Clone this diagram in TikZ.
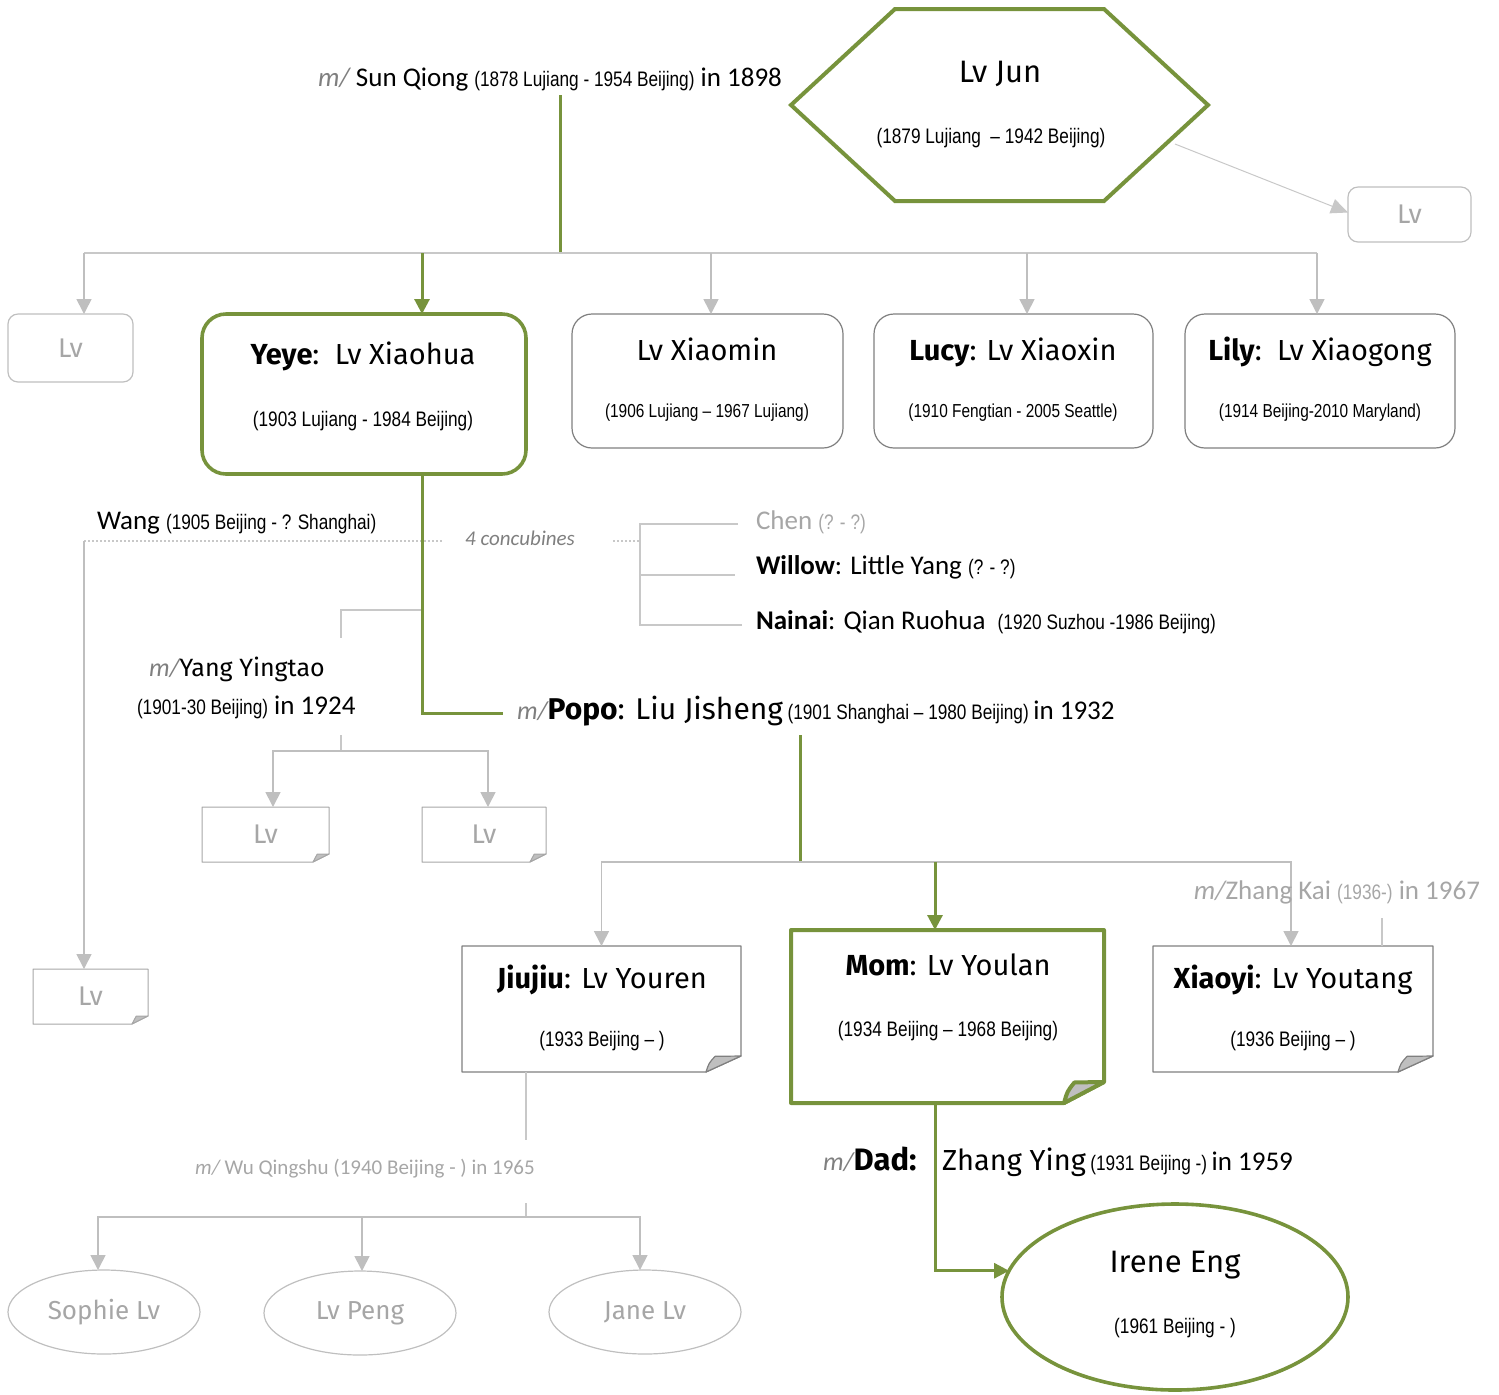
\documentclass[tikz,border=0pt]{standalone}
\usepackage{fontspec}
\setmainfont{Carlito}
\newfontfamily\comic{Fira Sans}
\newfontfamily\narrow[FakeStretch=0.82]{Liberation Sans}
\usetikzlibrary{arrows.meta,calc,shapes.geometric}
\definecolor{grn}{HTML}{77933C}
\definecolor{lgray}{HTML}{C8C8C8}
\definecolor{agray}{HTML}{BFBFBF}
\definecolor{tgray}{HTML}{A6A6A6}
\definecolor{bgray}{HTML}{7F7F7F}
\newcommand\dts[1]{{\narrow\fontsize{10.5}{12}\selectfont #1}}
\newcommand\mslash{{\itshape\color{bgray}m/}}
\newcommand\notedraw[4]{%
  \draw[#2, line join=round] (#1.north west) -- (#1.north east) -- ($(#1.south east)+(0,-#4)$) -- ($(#1.south east)+(-#3,0)$) -- (#1.south west) -- cycle;
  \filldraw[#2, line join=round, fill=agray] ($(#1.south east)+(-#3,0)$) .. controls ($(#1.south east)+(-0.92*#3,-0.55*#4)$) .. ($(#1.south east)+(-0.74*#3,-0.98*#4)$) -- ($(#1.south east)+(0,-#4)$) -- cycle;}
\begin{document}
\begin{tikzpicture}[x=0.5pt,y=-0.5pt,
  every node/.style={inner sep=0pt, outer sep=0pt},
  title/.style={font=\comic\fontsize{14.5}{17}\selectfont},
  dates/.style={font=\narrow\fontsize{10.5}{12}\selectfont},
  sdates/.style={font=\narrow\fontsize{9.4}{11}\selectfont},
  txt/.style={font=\fontsize{13.5}{15}\selectfont},
  lvtext/.style={font=\comic\fontsize{13.5}{15}\selectfont, text=tgray},
  hexst/.style={draw=grn, line width=2pt},
  greenbox/.style={draw=grn, line width=1.8pt, rounded corners=12pt},
  graybox/.style={draw=bgray, line width=0.6pt, rounded corners=10pt},
  lvbox/.style={draw=agray, line width=0.6pt, rounded corners=5pt},
  notegray/.style={draw=bgray, line width=0.6pt},
  notelight/.style={draw=tgray, line width=0.5pt},
  notegreen/.style={draw=grn, line width=2pt},
  ga/.style={draw=agray, line width=0.8pt, -{Triangle[width=7.5pt,length=7.5pt]}},
  gna/.style={draw=lgray, line width=0.8pt},
  thinga/.style={draw=lgray, line width=0.5pt, -{Triangle[width=7.5pt,length=8.5pt]}},
  dotl/.style={draw=lgray, line width=0.6pt, dash pattern=on 1pt off 1pt},
  gr/.style={draw=grn, line width=1.5pt},
  grA/.style={draw=grn, line width=1.5pt, -{Triangle[width=7.5pt,length=7.5pt]}}]
\useasboundingbox (0,0) rectangle (1499,1394);

% ---------- Lv Jun hexagon
\node[minimum width=208.5pt, minimum height=96pt] (lvjun) at (999.5,105) {};
\draw[hexst] ($(lvjun.north west)+(104,0)$) -- ($(lvjun.north east)+(-104,0)$) -- (lvjun.east) -- ($(lvjun.south east)+(-104,0)$) -- ($(lvjun.south west)+(104,0)$) -- (lvjun.west) -- cycle;
\node[anchor=base, font=\comic\fontsize{15.5}{17}\selectfont] (lvjunT) at (1000,82) {Lv Jun};
\node[dates, anchor=base] (lvjunD) at (991,143) {(1879 Lujiang \ – 1942 Beijing)};

\node[lvbox, lvtext, minimum width=61.5pt, minimum height=27.5pt] (lvR) at (1409.5,214.5) {Lv};
\draw[thinga] ($(lvjun.east)+(-33,39)$) -- ($(lvR.west)+(0,-2)$);

% ---------- Sun Qiong
\node[txt, anchor=base west] (sun) at (318,86) {\mslash\ Sun Qiong \dts{(1878 Lujiang - 1954 Beijing)} in 1898};
\coordinate (sunb) at (560,95);
\coordinate (sj) at (560,253);
\coordinate (d1) at (84,253);
\coordinate (yx) at (422,253);
\coordinate (d3) at (711,253);
\coordinate (d4) at (1027,253);
\coordinate (d5) at (1317,253);

% ---------- second row
\node[lvbox, lvtext, minimum width=62.5pt, minimum height=34pt] (lvL) at (70.5,348) {Lv};
\node[greenbox, minimum width=162pt, minimum height=80pt] (yeye) at (364,394) {};
\node[title, anchor=base] (yeyeT) at (363,364) {\textbf{Yeye}:\ \ Lv Xiaohua};
\node[dates, anchor=base] (yeyeD) at (363,426) {(1903 Lujiang - 1984 Beijing)};

\node[graybox, minimum width=135.5pt, minimum height=67pt] (xiaomin) at (707.5,381) {};
\node[title, anchor=base] (xiaominT) at (707,360) {Lv Xiaomin};
\node[sdates, anchor=base] (xiaominD) at (707,417) {(1906 Lujiang – 1967 Lujiang)};

\node[graybox, minimum width=139.5pt, minimum height=67pt] (lucy) at (1013.5,381) {};
\node[title, anchor=base] (lucyT) at (1013,360) {\textbf{Lucy}: Lv Xiaoxin};
\node[sdates, anchor=base] (lucyD) at (1013,417) {(1910 Fengtian - 2005 Seattle)};

\node[graybox, minimum width=135pt, minimum height=67pt] (lily) at (1320,381) {};
\node[title, anchor=base] (lilyT) at (1320,360) {\textbf{Lily}:\ \ Lv Xiaogong};
\node[sdates, anchor=base] (lilyD) at (1320,417) {(1914 Beijing-2010 Maryland)};

\draw[gr] (sunb) -- (sj);
\draw[gna] (d1) -- (d5);
\draw[ga] (d1) -- (d1 |- lvL.north);
\draw[ga] (d3) -- (d3 |- xiaomin.north);
\draw[ga] (d4) -- (d4 |- lucy.north);
\draw[ga] (d5) -- (d5 |- lily.north);
\draw[grA] (yx) -- (yx |- yeye.north);

% ---------- wives & concubines
\node[txt, anchor=base west] (wang) at (97,529) {Wang \dts{(1905 Beijing - ? Shanghai)}};
\node[font=\itshape\fontsize{10.5}{12}\selectfont, text=bgray, anchor=base] (conc) at (520,545) {4 concubines};
\coordinate (wj) at (84,541);
\coordinate (wd) at (443,541);
\coordinate (cd1) at (613,541);
\coordinate (cd2) at (640,541);
\draw[dotl] (wj) -- (wd);
\draw[dotl] (cd1) -- (cd2);
\node[txt, anchor=base west, text=tgray] (chen) at (756,529) {Chen \dts{(? - ?)}};
\node[txt, anchor=base west] (willow) at (756,574) {\textbf{Willow}: Little Yang \dts{(? - ?)}};
\node[txt, anchor=base west] (nainai) at (756,629) {\textbf{Nainai}: Qian Ruohua \ \dts{(1920 Suzhou -1986 Beijing)}};
\coordinate (c1) at (738,524);
\coordinate (c2) at (735,575);
\coordinate (c3) at (742,625);
\draw[gna] (c1) -| (c3 -| cd2) -- (c3);
\draw[gna] (c2 -| cd2) -- (c2);

\node[lvtext, minimum width=57.5pt, minimum height=27.5pt] (lvC) at (90.5,996.5) {Lv};
\notedraw{lvC}{notelight}{16}{8}
\draw[ga] (wj) -- (wj |- lvC.north);

% ---------- Yang Yingtao branch
\node[anchor=base west] (yang1) at (149,676) {{\itshape\color{bgray}\fontsize{13}{15}\selectfont m/}{\comic\fontsize{12.5}{15}\selectfont Yang Yingtao}};
\node[txt, anchor=base west] (yang2) at (137,714) {\dts{(1901-30 Beijing)} in 1924};
\coordinate (yb) at (422,610);
\coordinate (yc) at (341,638);
\draw[gna] (yb) -| (yc);
\coordinate (yt) at (341,735);
\coordinate (yj) at (341,751);
\node[lvtext, minimum width=63.5pt, minimum height=27.5pt] (lvA) at (265.5,834.5) {Lv};
\node[lvtext, minimum width=62pt, minimum height=27.5pt] (lvB) at (484,834.5) {Lv};
\notedraw{lvA}{notelight}{16}{8}
\notedraw{lvB}{notelight}{16}{8}
\draw[gna] (yt) -- (yj);
\draw[ga] (yj) -| ($(lvA.north)+(7.5,0)$);
\draw[ga] (yj) -| ($(lvB.north)+(4,0)$);

% ---------- Popo
\coordinate (pl) at (503,713);
\draw[gr] (yx |- yeye.south) |- (pl);
\node[anchor=base west] (popo) at (517,719) {{\itshape\color{bgray}\fontsize{13}{15}\selectfont m/}{\comic\fontsize{15}{17}\selectfont\textbf{Popo}: Liu Jisheng} \dts{(1901 Shanghai – 1980 Beijing)} {\fontsize{13.5}{15}\selectfont in 1932}};
\coordinate (pt) at (800,735);
\coordinate (pj) at (800,862);
\coordinate (mx) at (935,862);

% ---------- third generation
\node[minimum width=139.5pt, minimum height=63pt] (jiujiu) at (601.5,1009) {};
\notedraw{jiujiu}{notegray}{35}{16}
\node[title, anchor=base] (jiujiuT) at (602,988) {\textbf{Jiujiu}: Lv Youren};
\node[dates, anchor=base] (jiujiuD) at (602,1046) {(1933 Beijing – )};

\node[minimum width=156.5pt, minimum height=86.5pt] (mom) at (947.5,1016.5) {};
\notedraw{mom}{notegreen}{40}{21}
\node[title, anchor=base] (momT) at (948,975) {\textbf{Mom}: Lv Youlan};
\node[dates, anchor=base] (momD) at (948,1036) {(1934 Beijing – 1968 Beijing)};

\node[minimum width=140pt, minimum height=63pt] (xiaoyi) at (1293,1009) {};
\notedraw{xiaoyi}{notegray}{35}{16}
\node[title, anchor=base] (xiaoyiT) at (1293,988) {\textbf{Xiaoyi}: Lv Youtang};
\node[dates, anchor=base] (xiaoyiD) at (1293,1046) {(1936 Beijing – )};

\draw[gr] (pt) -- (pj);
\draw[ga] (pj) -| (jiujiu.north);
\draw[ga] (pj) -| ($(xiaoyi.north)+(-2,0)$);
\draw[grA] (mx) -- (mx |- mom.north);

\node[txt, anchor=base east, text=tgray] (zhangkai) at (1480,899) {{\itshape m/}Zhang Kai \dts{(1936-)} in 1967};
\coordinate (zk) at (1382,918);
\draw[gna] (zk) -- (zk |- xiaoyi.north);

% ---------- Wu Qingshu & children
\node[anchor=base, text=tgray, font=\fontsize{10.5}{12}\selectfont] (wu) at (365,1174) {{\itshape m/} Wu Qingshu (1940 Beijing - ) in 1965};
\coordinate (jx) at (526,1072);
\coordinate (jx2) at (526,1140);
\coordinate (jx3) at (526,1203);
\coordinate (ej) at (526,1217);
\draw[gna] (jx) -- (jx2);
\draw[gna] (jx3) -- (ej);

\node[ellipse, draw=agray, line width=0.6pt, minimum width=96pt, minimum height=42pt, lvtext, font=\comic\fontsize{13}{15}\selectfont] (sophie) at (104,1312) {Sophie Lv};
\node[ellipse, draw=agray, line width=0.6pt, minimum width=96pt, minimum height=42pt, lvtext, font=\comic\fontsize{13}{15}\selectfont] (peng) at (360,1313) {Lv Peng};
\node[ellipse, draw=agray, line width=0.6pt, minimum width=96pt, minimum height=42pt, lvtext, font=\comic\fontsize{13}{15}\selectfont] (jane) at (645,1312) {Jane Lv};
\draw[ga] (ej) -| ($(sophie.north)+(-6,0)$);
\draw[ga] (ej) -| ($(peng.north)+(2,0)$);
\draw[ga] (ej) -| ($(jane.north)+(-5,0)$);

% ---------- Dad & Irene
\node[anchor=base west] (dadA) at (823,1170) {{\itshape\color{bgray}\fontsize{13}{15}\selectfont m/}{\comic\fontsize{15.5}{17}\selectfont\textbf{Dad:}}};
\node[anchor=base west] (dadB) at (942,1170) {{\comic\fontsize{14.5}{17}\selectfont Zhang Ying} \dts{(1931 Beijing -)} {\fontsize{13.5}{15}\selectfont in 1959}};

\node[ellipse, draw=grn, line width=1.8pt, minimum width=173pt, minimum height=93pt] (irene) at (1175,1297) {};
\node[anchor=base, font=\comic\fontsize{15.5}{17}\selectfont] (ireneT) at (1175,1272) {Irene Eng};
\node[dates, anchor=base] (ireneD) at (1175,1333) {(1961 Beijing - )};
\draw[grA] (mx |- mom.south) |- (irene.171);
\end{tikzpicture}
\end{document}
